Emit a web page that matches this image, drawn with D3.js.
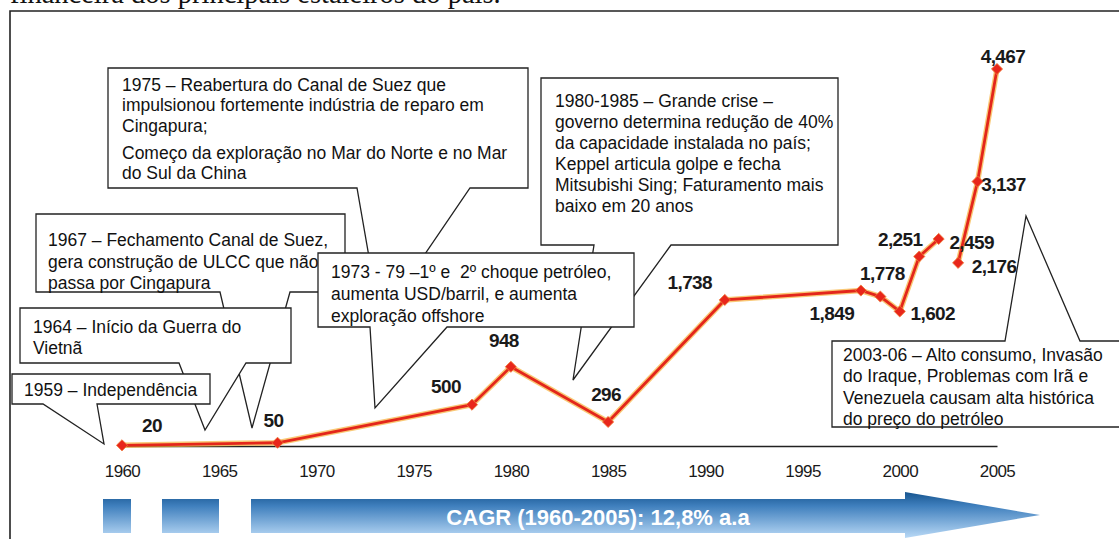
<!DOCTYPE html>
<html>
  <head>
    <meta charset="UTF-8">
    <script src="https://cdn.jsdelivr.net/npm/d3@7"></script>
    <title>Faturamento estaleiros Cingapura</title>
    <style>
      body { margin: 0; background: #fff; }
      svg text { font-family: "Liberation Sans", Arial, sans-serif; white-space: pre; }
    </style>
  </head>
  <body>
    <svg id="chart" width="1119" height="539"></svg>
  <script>
      // data
      var years = [1960, 1968, 1978, 1980, 1985, 1991, 1998, 1999, 2000, 2001, 2002, 2003, 2004, 2005];
      var values = [20, 50, 500, 948, 296, 1738, 1849, 1778, 1602, 2251, 2459, 2176, 3137, 4467];
      var tickYears = [1960, 1965, 1970, 1975, 1980, 1985, 1990, 1995, 2000, 2005];
      var breakAfterYear = 2002;   // line is not joined between 2002 and 2003
      var cagrText = "CAGR (1960-2005): 12,8% a.a";
      var headerText = "financeira dos principais estaleiros do país.";

      var notes1975 = ["1975 – Reabertura do Canal de Suez que", "impulsionou fortemente indústria de reparo em", "Cingapura;", "Começo da exploração no Mar do Norte e no Mar", "do Sul da China"];
      var notes1980 = ["1980-1985 – Grande crise –", "governo determina redução de 40%", "da capacidade instalada no país;", "Keppel articula golpe e fecha", "Mitsubishi Sing; Faturamento mais", "baixo em 20 anos"];
      var notes1967 = ["1967 – Fechamento Canal de Suez,", "gera construção de ULCC que não", "passa por Cingapura"];
      var notes1964 = ["1964 – Início da Guerra do", "Vietnã"];
      var notes1959 = ["1959 – Independência"];
      var notes1973 = ["1973 - 79 –1º e  2º choque petróleo,", "aumenta USD/barril, e aumenta", "exploração offshore"];
      var notes2003 = ["2003-06 – Alto consumo, Invasão", "do Iraque, Problemas com Irã e", "Venezuela causam alta histórica", "do preço do petróleo"];

      var svg = d3.select("#chart");

      var x = d3.scaleLinear().domain([1960, 2005]).range([122, 997]);
      var y = d3.scaleLinear().domain([0, 4467]).range([447, 69]);

      // gradient for the CAGR arrow
      var defs = svg.append("defs");
      var grad = defs.append("linearGradient")
          .attr("id", "blueGrad")
          .attr("gradientUnits", "userSpaceOnUse")
          .attr("x1", 0).attr("y1", 492).attr("x2", 0).attr("y2", 538);
      grad.append("stop").attr("offset", "0").attr("stop-color", "#17558f");
      grad.append("stop").attr("offset", "0.3").attr("stop-color", "#3f7fbd");
      grad.append("stop").attr("offset", "1").attr("stop-color", "#b9d9f6");

      // header text cut by the top of the picture, and the frame
      svg.append("text")
          .attr("x", 10).attr("y", 3)
          .style("font-family", "'Liberation Serif', serif")
          .style("font-size", "28.5px")
          .attr("fill", "#111")
          .text(headerText);
      svg.append("path")
          .attr("d", "M10,539 V11 H1119")
          .attr("fill", "none")
          .attr("stroke", "#222")
          .attr("stroke-width", 1.6);

      // callout = box + pointer. side "bottom" or "top"
      function callout(b, lines) {
          var d;
          if (b.side === "top") {
              d = "M" + b.x + "," + b.y + " H" + b.t1 + " L" + b.tx + "," + b.ty + " L" + b.t2 + "," + b.y +
                  " H" + (b.x + b.w) + " V" + (b.y + b.h) + " H" + b.x + " Z";
          } else {
              var yb = b.y + b.h;
              d = "M" + b.x + "," + b.y + " H" + (b.x + b.w) + " V" + yb + " H" + b.t2 +
                  " L" + b.tx + "," + b.ty + " L" + b.t1 + "," + yb + " H" + b.x + " Z";
          }
          var g = svg.append("g");
          g.append("path")
              .attr("d", d)
              .attr("fill", "#fff")
              .attr("stroke", "#222")
              .attr("stroke-width", 1.3);
          g.selectAll("text").data(lines).enter().append("text")
              .attr("x", b.x + b.pad)
              .attr("y", function(d, i){ return b.y + b.first + b.gaps[i]; })
              .attr("fill", "#111")
              .style("font-size", "17.5px")
              .text(function(d){ return d; });
          return g;
      }

      callout({x:108, y:68, w:420, h:120, t1:357, t2:470, tx:380, ty:320, pad:14, first:23, gaps:[0,20,41,68,88]}, notes1975);
      callout({x:541, y:78, w:297, h:167, t1:594, t2:671, tx:573, ty:380, pad:14, first:29, gaps:[0,21,42,63,84,105]}, notes1980);
      callout({x:36, y:214, w:309, h:78, t1:220, t2:290, tx:252, ty:428, pad:12, first:32, gaps:[0,22,43]}, notes1967);
      callout({x:20, y:308, w:271, h:55, t1:179, t2:246, tx:205, ty:430, pad:13, first:25, gaps:[0,21]}, notes1964);
      callout({x:12, y:374, w:198, h:30, t1:43, t2:97, tx:104, ty:444, pad:12, first:22, gaps:[0]}, notes1959);
      callout({x:318, y:253, w:316, h:74, t1:370, t2:447, tx:375, ty:408, pad:13, first:25, gaps:[0,22,44]}, notes1973);
      callout({side:"top", x:832, y:341, w:300, h:86, t1:1005, t2:1080, tx:1026, ty:216, pad:11, first:20, gaps:[0,21,43,64]}, notes2003);

      // x axis (line + year labels)
      var axis = svg.append("g")
          .attr("transform", "translate(0," + (y(0) - 1) + ")")
          .call(d3.axisBottom(x).tickValues(tickYears).tickFormat(d3.format("d")).tickSize(0).tickPadding(19));
      axis.select(".domain").attr("stroke", "#222").attr("stroke-width", 1.6);
      axis.selectAll("text")
          .style("font-family", "'Liberation Sans', Arial, sans-serif")
          .style("font-size", "17px")
          .style("letter-spacing", "-0.6px")
          .attr("fill", "#1a1a1a");

      // series
      var points = years.map(function(yr, i){ return {year: yr, value: values[i]}; });
      var parts = [
          points.filter(function(p){ return p.year <= breakAfterYear; }),
          points.filter(function(p){ return p.year > breakAfterYear; })
      ];
      var line = d3.line().x(function(d){ return x(d.year); }).y(function(d){ return y(d.value); });

      svg.selectAll("path.halo").data(parts).enter().append("path")
          .attr("class", "halo")
          .attr("d", line)
          .attr("fill", "none")
          .attr("stroke", "#f6b13a")
          .attr("stroke-opacity", 0.7)
          .attr("stroke-width", 5.5);
      svg.selectAll("path.series").data(parts).enter().append("path")
          .attr("class", "series")
          .attr("d", line)
          .attr("fill", "none")
          .attr("stroke", "#e3261b")
          .attr("stroke-width", 2.8);

      svg.selectAll("path.marker").data(points).enter().append("path")
          .attr("class", "marker")
          .attr("d", d3.symbol(d3.symbolSquare, 62))
          .attr("transform", function(d){ return "translate(" + x(d.year) + "," + y(d.value) + ") rotate(45)"; })
          .attr("fill", "#e8261b")
          .attr("stroke", "#f07a3a")
          .attr("stroke-width", 0.8);

      // value labels, nudged like in the original
      var labelShift = [[30,-20],[-4,-23],[-26,-19],[-7,-27],[-2,-28],[-35,-18],[-29,22],[2,-24],[33,2],[-19,-18],[33,3],[36,3],[26,2],[6,-13]];
      var fmt = d3.format(",");
      svg.selectAll("text.vlabel").data(points).enter().append("text")
          .attr("class", "vlabel")
          .attr("x", function(d, i){ return x(d.year) + labelShift[i][0]; })
          .attr("y", function(d, i){ return y(d.value) + labelShift[i][1] + 7; })
          .attr("text-anchor", "middle")
          .style("font-size", "19px")
          .style("font-weight", "bold")
          .style("letter-spacing", "-0.6px")
          .attr("fill", "#1a1a1a")
          .text(function(d){ return fmt(d.value); });

      // CAGR arrow along the bottom
      var arrowBoxes = [[103, 131], [162, 219]];
      svg.selectAll("rect.block").data(arrowBoxes).enter().append("rect")
          .attr("class", "block")
          .attr("x", function(d){ return d[0]; })
          .attr("y", 499)
          .attr("width", function(d){ return d[1] - d[0]; })
          .attr("height", 34)
          .attr("fill", "url(#blueGrad)");
      svg.append("path")
          .attr("d", "M251,499 H905 V492 L1040,515 L905,538 V533 H251 Z")
          .attr("fill", "url(#blueGrad)");
      svg.append("text")
          .attr("x", 598).attr("y", 525)
          .attr("text-anchor", "middle")
          .style("font-size", "22px")
          .style("font-weight", "bold")
          .attr("fill", "#fff")
          .text(cagrText);
  </script>
  </body>
</html>
